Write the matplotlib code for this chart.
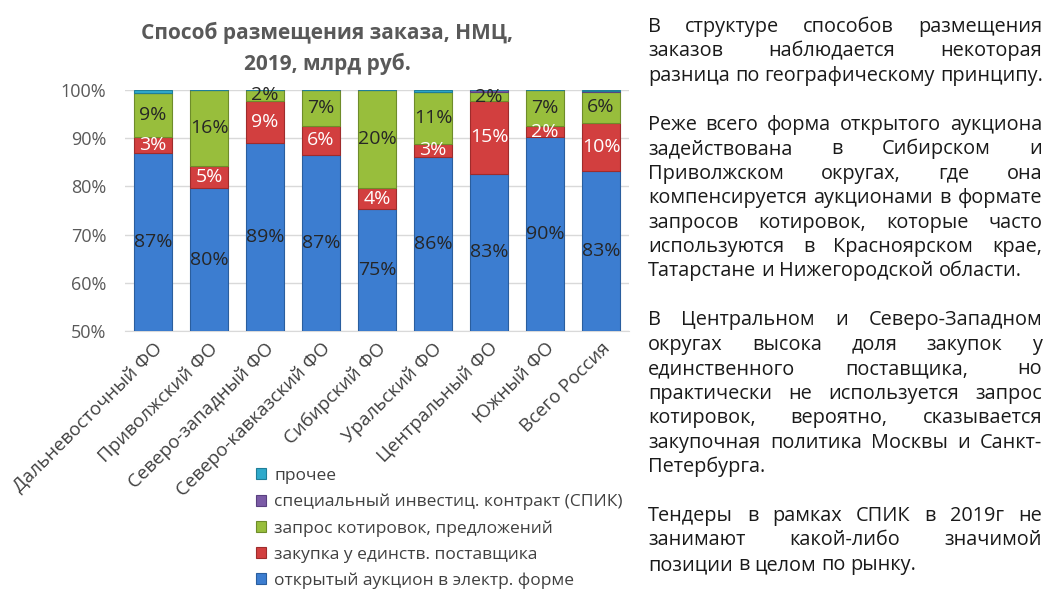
import matplotlib
matplotlib.use("Agg")
import matplotlib.pyplot as plt
from matplotlib.font_manager import FontProperties
import numpy as np

regions = ["Дальневосточный ФО", "Приволжский ФО", "Северо-западный ФО",
           "Северо-кавказский ФО", "Сибирский ФО", "Уральский ФО",
           "Центральный ФО", "Южный ФО", "Всего Россия"]

auction = [87.0, 79.6, 89.1, 86.6, 75.3, 86.2, 82.6, 90.2, 83.1]
single = [3.2, 4.6, 8.7, 6.0, 4.3, 2.7, 15.2, 2.3, 10.1]
quotes = [9.2, 15.8, 2.2, 7.3, 20.4, 10.6, 1.7, 7.4, 6.4]
spik = [0.0, 0.0, 0.0, 0.0, 0.0, 0.0, 0.5, 0.0, 0.2]
other = [0.6, 0.0, 0.0, 0.1, 0.0, 0.5, 0.0, 0.1, 0.2]

series_names = ["открытый аукцион в электр. форме", "закупка у единств. поставщика",
                "запрос котировок, предложений", "специальный инвестиц. контракт (СПИК)",
                "прочее"]

paragraphs = [
    ["В структуре способов размещения",
     "заказов наблюдается некоторая",
     "разница по географическому принципу."],
    ["Реже всего форма открытого аукциона",
     "задействована в Сибирском и",
     "Приволжском округах, где она",
     "компенсируется аукционами в формате",
     "запросов котировок, которые часто",
     "используются в Красноярском крае,",
     "Татарстане и Нижегородской области."],
    ["В Центральном и Северо-Западном",
     "округах высока доля закупок у",
     "единственного поставщика, но",
     "практически не используется запрос",
     "котировок, вероятно, сказывается",
     "закупочная политика Москвы и Санкт-",
     "Петербурга."],
    ["Тендеры в рамках СПИК в 2019г не",
     "занимают какой-либо значимой",
     "позиции в целом по рынку."],
]

plt.rcParams['font.family'] = ['Open Sans', 'DejaVu Sans']

W, H = 1060, 595
fig = plt.figure(figsize=(W / 100, H / 100), dpi=100)
ax = fig.add_axes([125 / W, 1 - 331 / H, 504 / W, 241 / H])

colors = ["#3C7DD0", "#D23F3F", "#98BE3C", "#7B5BA6", "#2FAACB"]
edges = ["#2A5E9E", "#9E2C2C", "#6E8C2A", "#5A4080", "#1F7E98"]
label_colors = ["#262626", "white", "#262626", None, None]

x = np.arange(len(regions))
data = [auction, single, quotes, spik, other]
bottom = np.full(len(regions), 50.0)
bars_list = []
for vals, name, c, ec, lc in zip(data, series_names, colors, edges, label_colors):
    vals = np.array(vals)
    h = vals.copy()
    if name == series_names[0]:
        h = vals - 50.0
    bars = ax.bar(x, h, 0.68, bottom=bottom, color=c, edgecolor=ec,
                  linewidth=0.8, label=name, zorder=3)
    bars_list.append(bars)
    if lc is not None:
        for xi, b, hh, v in zip(x, bottom, h, vals):
            ax.text(xi, b + hh / 2, f"{v:.0f}%", ha='center', va='center',
                    color=lc, fontsize=14, zorder=4)
    bottom = bottom + h

ax.set_ylim(50, 100)
ax.set_xlim(-0.5, len(regions) - 0.5)
ax.set_yticks(np.arange(50, 101, 10))
ax.set_yticklabels([f"{v}%" for v in range(50, 101, 10)], color="#595959", fontsize=13)
ax.yaxis.grid(True, color="#D9D9D9", linewidth=1, zorder=0)
ax.set_axisbelow(True)
for s in ["left", "right", "top"]:
    ax.spines[s].set_visible(False)
ax.spines["bottom"].set_color("#D9D9D9")
ax.tick_params(axis='both', length=0)
ax.tick_params(axis='y', pad=13.5)
ax.tick_params(axis='x', pad=6)
ax.set_xticks(x)
ax.set_xticklabels(regions, rotation=45, ha='right', rotation_mode='anchor',
                   fontsize=13.5, color="#404040")

fig.text(327 / W, 1 - 33 / H, "Способ размещения заказа, НМЦ,", ha='center', va='center',
         fontsize=15, fontweight='bold', color="#595959")
fig.text(327 / W, 1 - 64 / H, "2019, млрд руб.", ha='center', va='center',
         fontsize=15, fontweight='bold', color="#595959")

handles = bars_list[::-1]
leg = fig.legend(handles, series_names[::-1], loc='upper left',
                 bbox_to_anchor=(256 / W, 1 - 468 / H), frameon=False,
                 fontsize=12.5, handlelength=0.6, handleheight=0.6,
                 handletextpad=0.45, labelspacing=0.57, borderpad=0,
                 borderaxespad=0, labelcolor="#404040")

# justified text on the right
fig.canvas.draw()
renderer = fig.canvas.get_renderer()
x0, x1 = 648, 1042
fp = FontProperties(family='Open Sans', size=12)
ref_w = renderer.get_text_width_height_descent("разница по географическому принципу.", fp, ismath=False)[0]
fsize = 12 * (x1 - x0 - 2) / ref_w
fp = FontProperties(family='Open Sans', size=fsize)
space_w = renderer.get_text_width_height_descent("a a", fp, ismath=False)[0] - \
    renderer.get_text_width_height_descent("aa", fp, ismath=False)[0]

line_h = 24.45
y = 27
for para in paragraphs:
    for i, line in enumerate(para):
        words = line.split(" ")
        widths = [renderer.get_text_width_height_descent(w, fp, ismath=False)[0] for w in words]
        last = i == len(para) - 1
        if last or len(words) == 1:
            gap = space_w
        else:
            gap = (x1 - x0 - sum(widths)) / (len(words) - 1)
        xp = x0
        for w, ww in zip(words, widths):
            fig.text(xp / W, 1 - y / H, w, ha='left', va='center', fontproperties=fp,
                     color="#1A1A1A")
            xp += ww + gap
        y += line_h
    y += line_h

fig.savefig("out.png", dpi=100)
